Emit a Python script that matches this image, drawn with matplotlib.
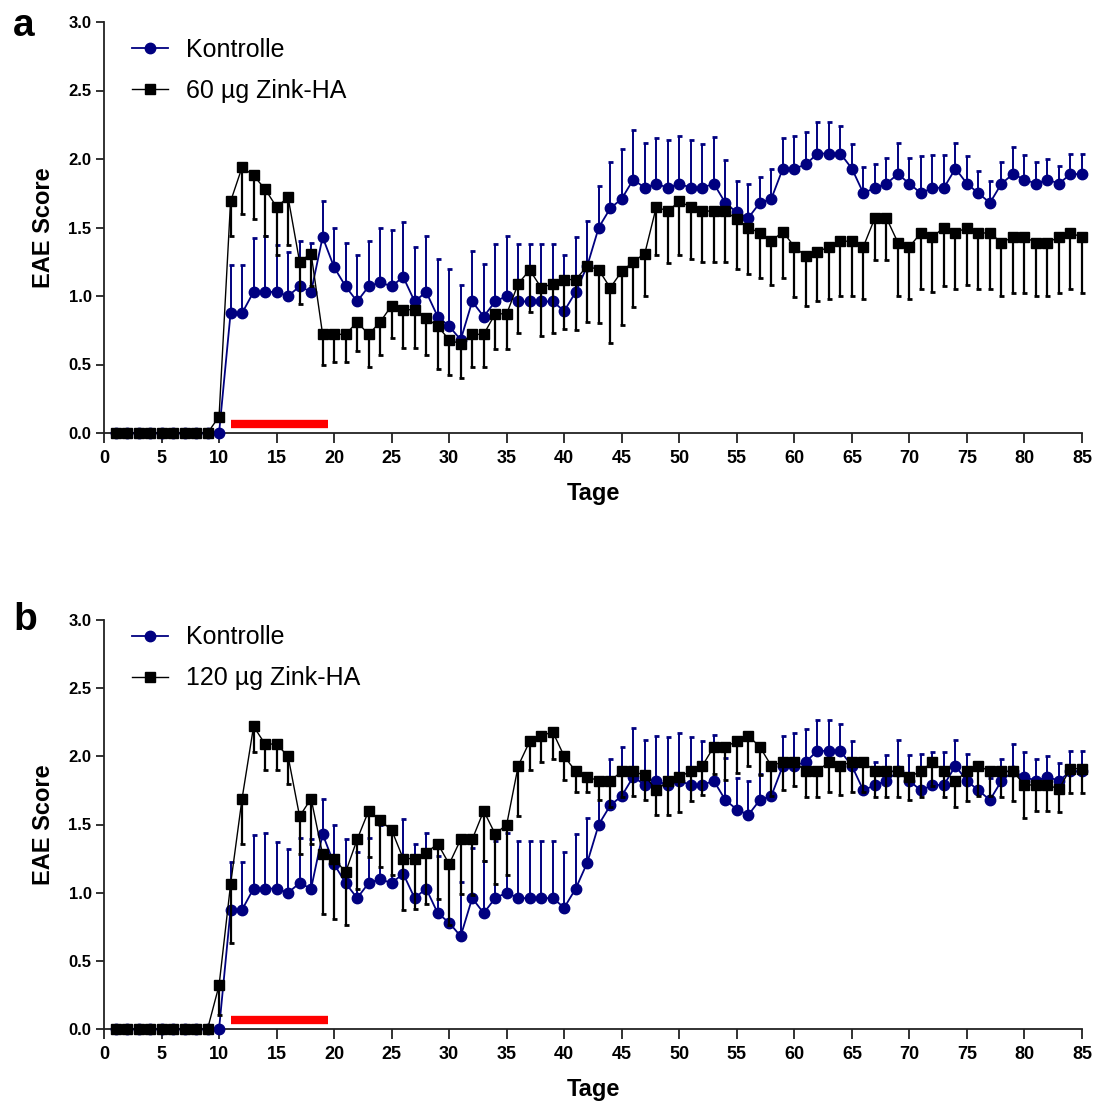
import numpy as np
import matplotlib
matplotlib.use('Agg')
import matplotlib.pyplot as plt

# ============================================
# Daten - Tage 1..85
# ============================================
days = np.arange(1, 86)

kontrolle_mean = [
    0, 0, 0, 0, 0, 0, 0, 0, 0, 0,
    0.875, 0.875, 1.03, 1.03, 1.03, 1.00, 1.07, 1.03, 1.43, 1.21,
    1.07, 0.96, 1.07, 1.10, 1.07, 1.14, 0.96, 1.03, 0.85, 0.78,
    0.68, 0.96, 0.85, 0.96, 1.00, 0.96, 0.96, 0.96, 0.96, 0.89,
    1.03, 1.22, 1.50, 1.64, 1.71, 1.85, 1.79, 1.82, 1.79, 1.82,
    1.79, 1.79, 1.82, 1.68, 1.61, 1.57, 1.68, 1.71, 1.93, 1.93,
    1.96, 2.04, 2.04, 2.04, 1.93, 1.75, 1.79, 1.82, 1.89, 1.82,
    1.75, 1.79, 1.79, 1.93, 1.82, 1.75, 1.68, 1.82, 1.89, 1.85,
    1.82, 1.85, 1.82, 1.89, 1.89,
]
kontrolle_sem = [
    0, 0, 0, 0, 0, 0, 0, 0, 0, 0,
    0.35, 0.35, 0.39, 0.41, 0.34, 0.32, 0.33, 0.36, 0.26, 0.29,
    0.32, 0.34, 0.33, 0.40, 0.41, 0.40, 0.40, 0.41, 0.42, 0.42,
    0.40, 0.37, 0.38, 0.42, 0.44, 0.42, 0.42, 0.42, 0.42, 0.41,
    0.40, 0.33, 0.30, 0.34, 0.36, 0.36, 0.33, 0.33, 0.35, 0.35,
    0.35, 0.32, 0.34, 0.31, 0.23, 0.25, 0.19, 0.22, 0.22, 0.24,
    0.24, 0.23, 0.23, 0.20, 0.18, 0.19, 0.17, 0.19, 0.23, 0.19,
    0.27, 0.24, 0.24, 0.19, 0.20, 0.16, 0.16, 0.16, 0.20, 0.18,
    0.16, 0.15, 0.13, 0.15, 0.15,
]

zink60_mean = [
    0, 0, 0, 0, 0, 0, 0, 0, 0, 0.12,
    1.69, 1.94, 1.88, 1.78, 1.65, 1.72, 1.25, 1.31, 0.72, 0.72,
    0.72, 0.81, 0.72, 0.81, 0.93, 0.90, 0.90, 0.84, 0.78, 0.68,
    0.65, 0.72, 0.72, 0.87, 0.87, 1.09, 1.19, 1.06, 1.09, 1.12,
    1.12, 1.22, 1.19, 1.06, 1.18, 1.25, 1.31, 1.65, 1.62, 1.69,
    1.65, 1.62, 1.62, 1.62, 1.56, 1.50, 1.46, 1.40, 1.47, 1.36,
    1.29, 1.32, 1.36, 1.40, 1.40, 1.36, 1.57, 1.57, 1.39, 1.36,
    1.46, 1.43, 1.50, 1.46, 1.50, 1.46, 1.46, 1.39, 1.43, 1.43,
    1.39, 1.39, 1.43, 1.46, 1.43,
]
zink60_sem = [
    0, 0, 0, 0, 0, 0, 0, 0, 0, 0,
    0.25, 0.34, 0.32, 0.34, 0.35, 0.35, 0.31, 0.24, 0.22, 0.20,
    0.20, 0.21, 0.24, 0.24, 0.24, 0.28, 0.28, 0.27, 0.31, 0.26,
    0.25, 0.24, 0.24, 0.26, 0.26, 0.36, 0.31, 0.35, 0.36, 0.36,
    0.37, 0.41, 0.39, 0.40, 0.39, 0.33, 0.31, 0.35, 0.38, 0.39,
    0.38, 0.37, 0.37, 0.37, 0.36, 0.34, 0.33, 0.32, 0.34, 0.37,
    0.36, 0.36, 0.38, 0.40, 0.40, 0.38, 0.31, 0.31, 0.39, 0.38,
    0.41, 0.40, 0.43, 0.41, 0.42, 0.41, 0.41, 0.39, 0.41, 0.41,
    0.39, 0.39, 0.41, 0.41, 0.41,
]

zink120_mean = [
    0, 0, 0, 0, 0, 0, 0, 0, 0, 0.32,
    1.06, 1.69, 2.22, 2.09, 2.09, 2.00, 1.56, 1.69, 1.28, 1.25,
    1.15, 1.39, 1.60, 1.53, 1.46, 1.25, 1.25, 1.29, 1.36, 1.21,
    1.39, 1.39, 1.60, 1.43, 1.50, 1.93, 2.11, 2.15, 2.18, 2.00,
    1.89, 1.85, 1.82, 1.82, 1.89, 1.89, 1.86, 1.75, 1.82, 1.85,
    1.89, 1.93, 2.07, 2.07, 2.11, 2.15, 2.07, 1.93, 1.96, 1.96,
    1.89, 1.89, 1.96, 1.93, 1.96, 1.96, 1.89, 1.89, 1.89, 1.85,
    1.89, 1.96, 1.89, 1.82, 1.89, 1.93, 1.89, 1.89, 1.89, 1.79,
    1.79, 1.79, 1.76, 1.91, 1.91,
]
zink120_sem = [
    0, 0, 0, 0, 0, 0, 0, 0, 0, 0.22,
    0.43, 0.33, 0.19, 0.19, 0.19, 0.20, 0.28, 0.33, 0.44, 0.44,
    0.39, 0.36, 0.34, 0.34, 0.33, 0.38, 0.37, 0.37, 0.41, 0.45,
    0.40, 0.41, 0.37, 0.37, 0.37, 0.37, 0.21, 0.19, 0.20, 0.17,
    0.15, 0.11, 0.14, 0.19, 0.19, 0.18, 0.18, 0.18, 0.25, 0.26,
    0.22, 0.21, 0.20, 0.24, 0.23, 0.22, 0.21, 0.22, 0.21, 0.18,
    0.19, 0.19, 0.22, 0.21, 0.22, 0.22, 0.19, 0.19, 0.19, 0.17,
    0.19, 0.18, 0.19, 0.19, 0.22, 0.22, 0.18, 0.19, 0.22, 0.24,
    0.19, 0.19, 0.17, 0.18, 0.18,
]

# Behandlungszeitraum (roter Balken)
treatment_days = [11, 19.5]
treatment_level = 0.068

NAVY = '#000080'
BLACK = '#000000'
RED = '#ff0000'
AXIS = '#222222'

plt.rcParams.update({
    'font.family': ['Liberation Sans', 'DejaVu Sans'],
    'axes.linewidth': 1.3,
})


def draw_panel(ax, zink_mean, zink_sem, zink_label, legend_top):
    zeros = np.zeros(len(days))

    # Kontrolle: Fehlerbalken nur nach oben
    ax.errorbar(days, kontrolle_mean, yerr=[zeros, kontrolle_sem], fmt='none',
                ecolor=NAVY, elinewidth=1.4, capsize=1.8, capthick=2, zorder=2)
    ax.plot(days, kontrolle_mean, '-o', color=NAVY, lw=1.3, ms=7.5,
            label='Kontrolle', zorder=3)

    # Zink-HA: Fehlerbalken nur nach unten
    ax.errorbar(days, zink_mean, yerr=[zink_sem, zeros], fmt='none',
                ecolor=BLACK, elinewidth=1.6, capsize=1.8, capthick=2, zorder=4)
    ax.plot(days, zink_mean, '-s', color=BLACK, lw=1.0, ms=7.5,
            label=zink_label, zorder=5)

    ax.plot(treatment_days, [treatment_level] * 2, color=RED, lw=6,
            solid_capstyle='butt', zorder=1)

    for art in ax.get_children():
        art.set_clip_on(False)

    ax.set_xlim(0, 85)
    ax.set_ylim(0, 3)
    ax.set_xticks(np.arange(0, 86, 5))
    ax.set_yticks(np.arange(0, 3.01, 0.5))
    ax.set_yticklabels([f'{v:.1f}' for v in np.arange(0, 3.01, 0.5)])

    ax.spines['top'].set_visible(False)
    ax.spines['right'].set_visible(False)
    ax.spines['left'].set_color(AXIS)
    ax.spines['bottom'].set_color(AXIS)
    ax.tick_params(axis='x', direction='out', length=7, width=1.3, colors=AXIS,
                   labelsize=13, pad=5)
    ax.tick_params(axis='y', direction='out', length=6, width=1.3, colors=AXIS,
                   labelsize=12, pad=3)
    for lbl in ax.get_xticklabels() + ax.get_yticklabels():
        lbl.set_fontweight('bold')
        lbl.set_color('black')

    ax.set_xlabel('Tage', fontsize=17, fontweight='bold')
    ax.set_ylabel('EAE Score', fontsize=17, fontweight='bold')
    ax.xaxis.set_label_coords(0.5, -0.12)
    ax.yaxis.set_label_coords(-0.05, 0.5)

    ax.legend(loc='upper left', bbox_to_anchor=(0.0286, legend_top), frameon=False,
              fontsize=18, handlelength=1.45, handletextpad=0.7, labelspacing=0.68,
              borderaxespad=0, borderpad=0)


fig = plt.figure(figsize=(10.95, 11.04), dpi=100)
W, H = 1095, 1104
ax_a = fig.add_axes([104 / W, 1 - 433 / H, 978 / W, 411 / H])
ax_b = fig.add_axes([104 / W, 1 - 1029 / H, 978 / W, 409 / H])

draw_panel(ax_a, zink60_mean, zink60_sem, '60 µg Zink-HA', 0.962)
draw_panel(ax_b, zink120_mean, zink120_sem, '120 µg Zink-HA', 0.987)

fig.text(24 / W, 1 - 36 / H, 'a', fontsize=28, fontweight='bold', ha='center', va='baseline')
fig.text(25 / W, 1 - 630 / H, 'b', fontsize=28, fontweight='bold', ha='center', va='baseline')

fig.savefig('out.png', dpi=100, facecolor='white')
